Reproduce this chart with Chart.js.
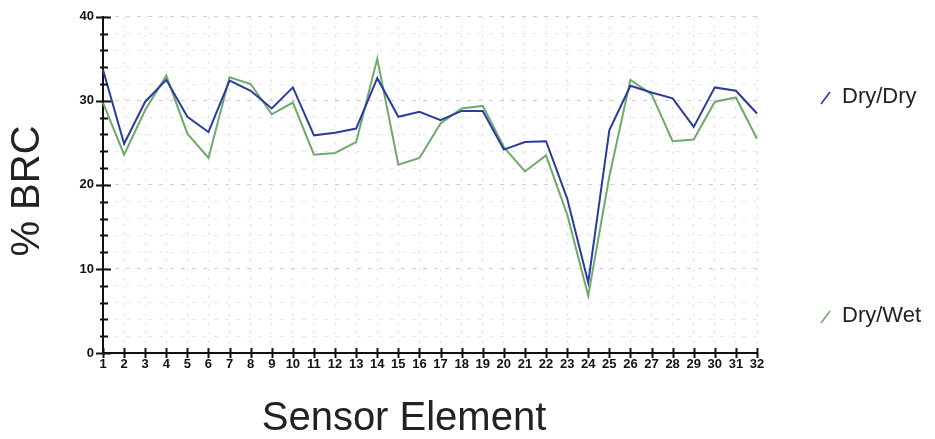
<!DOCTYPE html>
<html>
<head>
<meta charset="utf-8">
<script src="https://cdn.jsdelivr.net/npm/chart.js@4"></script>
<style>
  html, body { margin: 0; padding: 0; background: #fff; }
  #wrap { width: 935px; height: 439px; position: relative; }
</style>
</head>
<body>
<div id="wrap"><canvas id="brc"></canvas></div>
<script>
/* ===== data ===== */
const sensors = Array.from({ length: 32 }, (_, i) => String(i + 1));

const dryDry = [
  33.7, 24.9, 29.9, 32.5, 28.1, 26.3, 32.4, 31.2, 29.1, 31.6,
  25.9, 26.2, 26.7, 32.7, 28.1, 28.7, 27.7, 28.8, 28.8, 24.2,
  25.1, 25.2, 18.4, 8.4, 26.5, 31.8, 31.0, 30.3, 26.9, 31.6,
  31.2, 28.5,
];
const dryWet = [
  29.8, 23.6, 28.9, 33.0, 26.1, 23.2, 32.8, 32.0, 28.4, 29.8,
  23.6, 23.8, 25.1, 35.0, 22.4, 23.2, 27.3, 29.1, 29.4, 24.5,
  21.6, 23.5, 16.5, 6.8, 21.0, 32.5, 30.8, 25.2, 25.4, 29.9,
  30.4, 25.5,
];
const yMajorTicks = [0, 10, 20, 30, 40];

const BLUE = "#2c3c9c";
const GREEN = "#6eaa6a";
const FONT = "'Liberation Sans', Arial, sans-serif";

/* ===== ticks, axis titles and legend drawn on top ===== */
const decor = {
  id: "decor",
  afterDraw(chart) {
    const { ctx, chartArea: a, scales: { x, y } } = chart;
    ctx.save();
    ctx.strokeStyle = "#111";
    ctx.lineWidth = 2;

    // x ticks cross the axis line
    sensors.forEach((_, i) => {
      const px = Math.round(x.getPixelForValue(i)) + 0.5;
      ctx.beginPath();
      ctx.moveTo(px, a.bottom - 5);
      ctx.lineTo(px, a.bottom + 5);
      ctx.stroke();
    });

    // y ticks: long at the labelled values, short in between
    y.ticks.forEach(t => {
      const py = Math.round(y.getPixelForValue(t.value)) + 0.5;
      const major = yMajorTicks.includes(t.value);
      ctx.beginPath();
      ctx.moveTo(a.left - (major ? 7 : 3), py);
      ctx.lineTo(a.left + (major ? 8 : 5), py);
      ctx.stroke();
    });

    // axis titles
    ctx.fillStyle = "#222";
    ctx.font = `40px ${FONT}`;
    ctx.textAlign = "center";
    ctx.textBaseline = "middle";
    ctx.fillText("Sensor Element", 404, 419);
    ctx.save();
    ctx.translate(28, 191);
    ctx.rotate(-Math.PI / 2);
    ctx.fillText("% BRC", 0, 0);
    ctx.restore();

    // legend, one entry per series
    const rows = [97, 316];
    ctx.font = `22px ${FONT}`;
    ctx.textAlign = "left";
    chart.data.datasets.forEach((ds, i) => {
      const ly = rows[i];
      ctx.strokeStyle = ds.borderColor;
      ctx.lineWidth = 1.5;
      ctx.beginPath();
      ctx.moveTo(821, ly + 7);
      ctx.lineTo(830, ly - 5);
      ctx.stroke();
      ctx.fillStyle = "#222";
      ctx.fillText(ds.label, 842, ly);
    });
    ctx.restore();
  },
};

new Chart(document.getElementById("brc"), {
  type: "line",
  data: {
    labels: sensors,
    datasets: [
      { label: "Dry/Dry", data: dryDry, borderColor: BLUE, borderWidth: 2 },
      { label: "Dry/Wet", data: dryWet, borderColor: GREEN, borderWidth: 2 },
    ],
  },
  options: {
    responsive: true,
    maintainAspectRatio: false,
    animation: false,
    layout: { padding: { top: 14, right: 178, left: 0, bottom: 0 } },
    elements: { point: { radius: 0 }, line: { tension: 0 } },
    plugins: { legend: { display: false }, tooltip: { enabled: false } },
    scales: {
      x: {
        offset: false,
        afterFit: s => { s.height = 86; },
        grid: { color: "#d9d9d9", drawTicks: false, lineWidth: 1 },
        border: { color: "#111", width: 2, dash: [2, 7] },
        ticks: {
          autoSkip: false, maxRotation: 0, padding: 4,
          color: "#111", font: { family: FONT, size: 13, weight: "bold" },
        },
      },
      y: {
        min: 0,
        max: 40,
        afterFit: s => { s.width = 103; },
        grid: {
          drawTicks: false,
          lineWidth: 1,
          color: c => (yMajorTicks.includes(c.tick.value) ? "#cfcfcf" : "#e8e8e8"),
        },
        border: { color: "#111", width: 2, dash: [4, 7] },
        ticks: {
          stepSize: 2,
          autoSkip: false,
          padding: 9,
          color: "#111",
          font: { family: FONT, size: 13, weight: "bold" },
          callback: v => (yMajorTicks.includes(v) ? v : ""),
        },
      },
    },
  },
  plugins: [decor],
});
</script>
</body>
</html>
